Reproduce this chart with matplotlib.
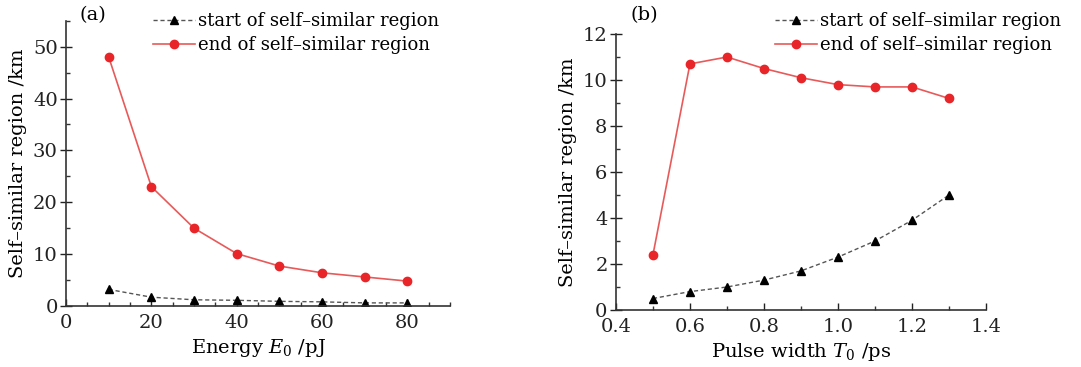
import matplotlib
matplotlib.use("Agg")
import matplotlib.pyplot as plt
from matplotlib.ticker import MultipleLocator

plt.rcParams['font.family'] = ['DejaVu Serif']
plt.rcParams['mathtext.fontset'] = 'dejavuserif'

# Panel (a)
energy = [10, 20, 30, 40, 50, 60, 70, 80]
start_a = [3.2, 1.7, 1.2, 1.1, 0.9, 0.8, 0.6, 0.6]
end_a = [48, 23, 15, 10.1, 7.7, 6.4, 5.6, 4.8]

# Panel (b)
width = [0.5, 0.6, 0.7, 0.8, 0.9, 1.0, 1.1, 1.2, 1.3]
start_b = [0.5, 0.8, 1.0, 1.3, 1.7, 2.3, 3.0, 3.9, 5.0]
end_b = [2.4, 10.7, 11.0, 10.5, 10.1, 9.8, 9.7, 9.7, 9.2]

label_start = "start of self\u2013similar region"
label_end = "end of self\u2013similar region"
ylabel = "Self\u2013similar region /km"

RED = '#e8262a'
LRED = '#e85a5a'

fig = plt.figure(figsize=(10.81, 3.67), dpi=100)
axa = fig.add_axes([0.0611, 0.1662, 0.3552, 0.7774])
axb = fig.add_axes([0.5698, 0.1553, 0.3423, 0.7520])

FS = 14
LFS = 13

def style(ax):
    ax.spines['top'].set_visible(False)
    ax.spines['right'].set_visible(False)
    for s in ('left', 'bottom'):
        ax.spines[s].set_linewidth(1.2)
        ax.spines[s].set_color('#333333')
    ax.tick_params(axis='x', which='major', direction='in', length=5, width=1, labelsize=FS, pad=6, colors='#222222')
    ax.tick_params(axis='x', which='minor', direction='in', length=3, width=1, colors='#333333')
    ax.tick_params(axis='y', which='major', direction='inout', length=8, width=1, labelsize=FS, pad=2, colors='#222222')
    ax.tick_params(axis='y', which='minor', direction='in', length=3, width=1, colors='#333333')

legend_anchor = {id(axa): (0.2266, 1.03), id(axb): (0.43, 1.08)}

for ax, x, s, e in ((axa, energy, start_a, end_a), (axb, width, start_b, end_b)):
    ax.plot(x, s, linestyle=(0, (3, 2)), color='#555555', linewidth=1,
            marker='^', markersize=6, markerfacecolor='black', markeredgecolor='black',
            label=label_start)
    ax.plot(x, e, linestyle='-', color=LRED, linewidth=1.2,
            marker='o', markersize=6, markerfacecolor=RED, markeredgecolor=RED,
            label=label_end)
    style(ax)
    ax.legend(loc='upper left', frameon=False, fontsize=LFS, handlelength=2.3,
              handletextpad=0.2, borderaxespad=0.0, borderpad=0.0, labelspacing=0.35,
              bbox_to_anchor=legend_anchor[id(ax)])

axa.set_xlim(0, 90)
axa.set_ylim(0, 55)
axa.xaxis.set_minor_locator(MultipleLocator(5))
axa.yaxis.set_major_locator(MultipleLocator(10))
axa.yaxis.set_minor_locator(MultipleLocator(5))
axa.set_xticks([0, 20, 40, 60, 80])
axa.set_xlabel("Energy $E_0$ /pJ", fontsize=FS, labelpad=3)
axa.set_ylabel(ylabel, fontsize=FS, labelpad=4)
axa.text(0.036, 1.02, "(a)", transform=axa.transAxes, fontsize=FS, ha='left', va='center')

axb.set_xlim(0.4, 1.4)
axb.set_ylim(0, 12)
axb.xaxis.set_minor_locator(MultipleLocator(0.1))
axb.yaxis.set_major_locator(MultipleLocator(2))
axb.yaxis.set_minor_locator(MultipleLocator(1))
axb.set_xticks([0.4, 0.6, 0.8, 1.0, 1.2, 1.4])
axb.set_xticklabels(["0.4", "0.6", "0.8", "1.0", "1.2", "1.4"])
axb.set_xlabel("Pulse width $T_0$ /ps", fontsize=FS, labelpad=3)
axb.set_ylabel(ylabel, fontsize=FS, labelpad=4)
axb.text(0.038, 1.069, "(b)", transform=axb.transAxes, fontsize=FS, ha='left', va='center')

fig.savefig("out.png", dpi=100)
